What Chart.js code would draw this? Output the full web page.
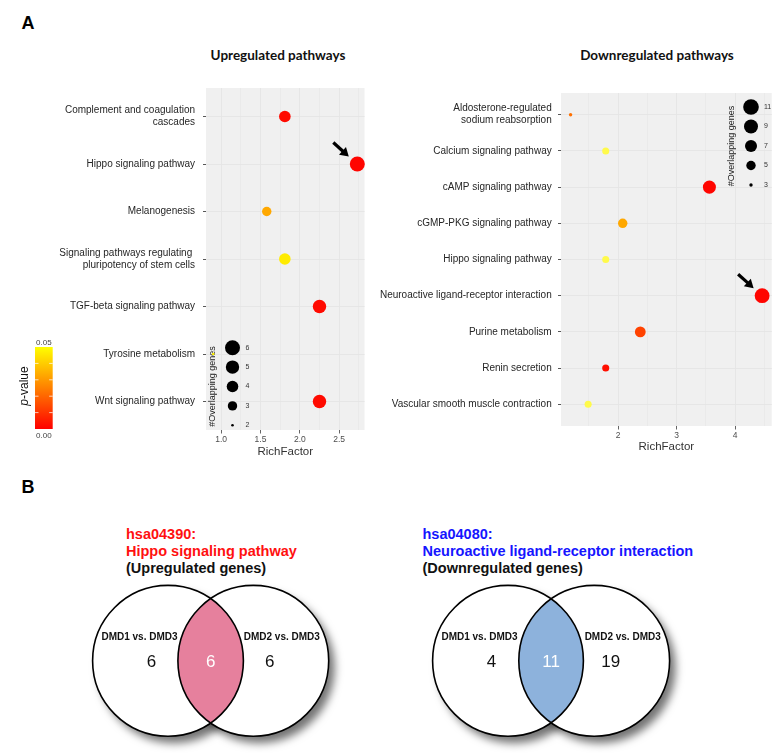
<!DOCTYPE html>
<html><head><meta charset="utf-8">
<script src="https://cdn.jsdelivr.net/npm/chart.js@4.4.1/dist/chart.umd.min.js"></script>
<style>
html,body{margin:0;padding:0;background:#fff;}
body{width:781px;height:753px;position:relative;overflow:hidden;font-family:"Liberation Sans",Arial,sans-serif;}
.t{position:absolute;white-space:nowrap;transform:translateY(-50%);}
.c{transform:translate(-50%,-50%);}
canvas{position:absolute;}
</style></head><body>
<div class="t c" style="left:28px;top:23px;font:bold 18px 'Liberation Sans',Arial;">A</div>
<div class="t c" style="left:28px;top:487px;font:bold 18px 'Liberation Sans',Arial;">B</div>
<div class="t c" style="left:278px;top:54.5px;font:bold 13.5px Lato,'Open Sans',sans-serif;color:#111;">Upregulated pathways</div>
<div class="t c" style="left:657px;top:54.5px;font:bold 13.5px Lato,'Open Sans',sans-serif;color:#111;">Downregulated pathways</div>
<div class="t" style="left:126px;top:534px;font:bold 14.5px 'Liberation Sans',Arial;color:#ff1010;">hsa04390:</div>
<div class="t" style="left:126px;top:551.3px;font:bold 14.5px 'Liberation Sans',Arial;color:#ff1010;">Hippo signaling pathway</div>
<div class="t" style="left:126px;top:568.3px;font:bold 14.5px 'Liberation Sans',Arial;color:#111;">(Upregulated genes)</div>
<div class="t" style="left:422.5px;top:534px;font:bold 14.5px 'Liberation Sans',Arial;color:#1515ff;">hsa04080:</div>
<div class="t" style="left:422.5px;top:551.3px;font:bold 14.5px 'Liberation Sans',Arial;color:#1515ff;">Neuroactive ligand-receptor interaction</div>
<div class="t" style="left:422.5px;top:568.3px;font:bold 14.5px 'Liberation Sans',Arial;color:#111;">(Downregulated genes)</div>

<canvas id="up" width="372" height="470" style="left:0;top:0;"></canvas>
<canvas id="down" width="409" height="470" style="left:372px;top:0;"></canvas>
<canvas id="venn" width="781" height="283" style="left:0;top:470px;"></canvas>

<script>
// ---------------- DATA ----------------
const upCategories = [
  ["Complement and coagulation", "cascades"],
  "Hippo signaling pathway",
  "Melanogenesis",
  ["Signaling pathways regulating ", "pluripotency of stem cells"],
  "TGF-beta signaling pathway",
  "Tyrosine metabolism",
  "Wnt signaling pathway"
];
const upRichFactor = [1.81, 2.73, 1.58, 1.81, 2.25, 0.90, 2.25];
const upGeneCount  = [4, 6, 3, 4, 5, 2, 5];
const upPValue     = [0.002, 0.001, 0.033, 0.046, 0.002, 0.047, 0.002];
const upXTicks     = [1.0, 1.5, 2.0, 2.5];
const upSizeKeys   = [6, 5, 4, 3, 2];
const upHighlight  = "Hippo signaling pathway";

const downCategories = [
  ["Aldosterone-regulated", "sodium reabsorption"],
  "Calcium signaling pathway",
  "cAMP signaling pathway",
  "cGMP-PKG signaling pathway",
  "Hippo signaling pathway",
  "Neuroactive ligand-receptor interaction",
  "Purine metabolism",
  "Renin secretion",
  "Vascular smooth muscle contraction"
];
const downRichFactor = [1.19, 1.79, 3.56, 2.08, 1.79, 4.46, 2.38, 1.79, 1.49];
const downGeneCount  = [3, 4, 8, 5, 4, 10, 6, 4, 4];
const downPValue     = [0.022, 0.068, 0.001, 0.033, 0.068, 0.001, 0.013, 0.003, 0.068];
const downXTicks     = [2, 3, 4];
const downSizeKeys   = [11, 9, 7, 5, 3];
const downHighlight  = "Neuroactive ligand-receptor interaction";

const pValueRange = [0.00, 0.05];
const pValueTickLabels = ["0.00", "0.05"];

const vennSetNames   = ["DMD1 vs. DMD3", "DMD2 vs. DMD3"];
const vennUpCounts   = [6, 6, 6];   // only set1, both, only set2
const vennDownCounts = [4, 11, 19];

// ---------------- STYLE HELPERS ----------------
const FONT = "'Liberation Sans', Arial, sans-serif";
Chart.defaults.font.family = FONT;
const upRadiusAnchors   = {2:1.3, 3:4.7, 4:5.8, 5:6.7, 6:7.5};
const downRadiusAnchors = {3:1.7, 5:4.7, 7:6.0, 9:7.0, 11:7.8};
function sizeFor(n, anchors){
  const keys = Object.keys(anchors).map(Number).sort((a,b)=>a-b);
  if (n <= keys[0]) return anchors[keys[0]];
  if (n >= keys[keys.length-1]) return anchors[keys[keys.length-1]];
  for (let i=0;i<keys.length-1;i++){
    const a=keys[i], b=keys[i+1];
    if (n>=a && n<=b){ const t=(n-a)/(b-a); const A=anchors[a]**2, B=anchors[b]**2; return Math.sqrt(A+(B-A)*t); }
  }
}
function colorFor(p){
  if (p <= 0.05){ const t=Math.max(0,p)/0.05; return `rgb(255,${Math.round(255*t)},0)`; }
  const t=Math.min(1,(p-0.05)/0.03); return `rgb(255,${Math.round(255-8*t)},${Math.round(125*t)})`;
}
function expandRange(vals){ const lo=Math.min(...vals), hi=Math.max(...vals), d=(hi-lo)*0.05; return [lo-d, hi+d]; }
function buildXTicks(majors, min, max){
  const step = majors[1]-majors[0];
  const all = majors.slice();
  for (let v = majors[0]-step/2; v <= max; v += step) if (v >= min) all.push(+v.toFixed(4));
  return all.sort((a,b)=>a-b);
}
function labelText(c){ return Array.isArray(c) ? c.join(" ") : c; }

function drawArrow(ctx, tx, ty, hx, hy){
  const dx=hx-tx, dy=hy-ty, L=Math.hypot(dx,dy), ux=dx/L, uy=dy/L;
  const hl=8.5, hw=5.2, bx=hx-ux*hl, by=hy-uy*hl;
  ctx.save(); ctx.strokeStyle='#000'; ctx.fillStyle='#000'; ctx.lineWidth=3.2;
  ctx.beginPath(); ctx.moveTo(tx,ty); ctx.lineTo(bx+ux,by+uy); ctx.stroke();
  ctx.beginPath(); ctx.moveTo(hx,hy); ctx.lineTo(bx-uy*hw,by+ux*hw); ctx.lineTo(bx+uy*hw,by-ux*hw); ctx.closePath(); ctx.fill();
  ctx.restore();
}

function panelPlugin(o){
  return {
    id: 'panel_'+o.name,
    beforeDraw(chart){
      const {ctx, chartArea:a} = chart;
      ctx.save(); ctx.fillStyle='#F0F0F0'; ctx.fillRect(a.left,a.top,a.right-a.left,a.bottom-a.top); ctx.restore();
    },
    beforeDatasetsDraw(chart){
      const {ctx, chartArea:a} = chart;
      const cx = o.legendX(a), y0 = o.legendY0(a), step = o.legendStep;
      ctx.save();
      o.sizeKeys.forEach((k,i)=>{
        const y = y0 + i*step;
        ctx.beginPath(); ctx.arc(cx, y, sizeFor(k, o.anchors), 0, Math.PI*2); ctx.fillStyle='#000'; ctx.fill();
        ctx.fillStyle='#333'; ctx.font='7px '+FONT; ctx.textAlign='left'; ctx.textBaseline='middle';
        ctx.fillText(String(k), cx+13, y);
      });
      const ty = y0 + step*(o.sizeKeys.length-1)/2;
      ctx.translate(cx-19.5, ty); ctx.rotate(-Math.PI/2);
      ctx.font='9px '+FONT; ctx.fillStyle='#222'; ctx.textAlign='center'; ctx.textBaseline='middle';
      ctx.fillText('#Overlapping genes', 0, 0);
      ctx.restore();
    },
    afterDatasetsDraw(chart){
      const idx = o.categories.findIndex(c => labelText(c) === o.highlight);
      const p = chart.getDatasetMeta(0).data[idx];
      drawArrow(chart.ctx, p.x-24, p.y-21.5, p.x-8.5, p.y-7.5);
    },
    afterDraw(chart){ if (o.extra) o.extra(chart); }
  };
}

function colorBar(chart){
  const ctx = chart.ctx;
  const x=35, w=17.7, yTop=347, yBot=429;
  ctx.save();
  const g = ctx.createLinearGradient(0, yBot, 0, yTop);
  for (let i=0;i<=10;i++){ const p = pValueRange[0] + (pValueRange[1]-pValueRange[0])*i/10; g.addColorStop(i/10, colorFor(p)); }
  ctx.fillStyle=g; ctx.fillRect(x, yTop, w, yBot-yTop);
  ctx.strokeStyle='rgba(255,255,255,0.9)'; ctx.lineWidth=0.8;
  for (let i=1;i<5;i++){ const y = yBot - (yBot-yTop)*i/5; ctx.beginPath(); ctx.moveTo(x,y); ctx.lineTo(x+3.5,y); ctx.moveTo(x+w-3.5,y); ctx.lineTo(x+w,y); ctx.stroke(); }
  ctx.fillStyle='#444'; ctx.font='8px '+FONT; ctx.textAlign='center'; ctx.textBaseline='middle';
  ctx.fillText(pValueTickLabels[1], x+w/2, yTop-4.5);
  ctx.fillText(pValueTickLabels[0], x+w/2, yBot+7);
  ctx.translate(25, 386); ctx.rotate(-Math.PI/2);
  ctx.fillStyle='#111'; ctx.textBaseline='middle'; ctx.textAlign='left';
  ctx.font='italic 12px '+FONT; const pw = ctx.measureText('p').width;
  ctx.font='12px '+FONT; const rw = ctx.measureText('-value').width;
  const sx = -(pw+rw)/2;
  ctx.font='italic 12px '+FONT; ctx.fillText('p', sx, 0);
  ctx.font='12px '+FONT; ctx.fillText('-value', sx+pw, 0);
  ctx.restore();
}

function bubbleChart(id, o){
  const [xmin, xmax] = expandRange(o.rich);
  const xt = buildXTicks(o.xTicks, xmin, xmax);
  const n = o.categories.length;
  return new Chart(document.getElementById(id), {
    type: 'bubble',
    data: { datasets: [{
      data: o.rich.map((x,i)=>({x, y:i, r:sizeFor(o.counts[i], o.anchors)})),
      backgroundColor: o.pvals.map(colorFor),
      borderWidth: 0, hoverRadius: 0, clip: false
    }]},
    options: {
      responsive:false, animation:false, devicePixelRatio:1,
      layout:{padding:o.padding},
      plugins:{legend:{display:false}, tooltip:{enabled:false}},
      events: [],
      scales:{
        x:{ type:'linear', min:xmin, max:xmax,
          afterBuildTicks: s => { s.ticks = xt.map(v=>({value:v})); },
          ticks:{ autoSkip:false, maxRotation:0, padding:1.5, color:'#4d4d4d', font:{size:8.5},
            callback: v => o.xTicks.includes(v) ? o.xFmt(v) : '' },
          grid:{ color: c => '#e4e4e4', lineWidth: c => o.xTicks.includes(c.tick.value) ? 0.9 : 0.5,
            tickLength:3.5, tickColor: c => o.xTicks.includes(c.tick.value) ? '#555' : 'rgba(0,0,0,0)' },
          border:{display:false},
          title:{display:true, text:'RichFactor', color:'#333', font:{size:11.5}, padding:0},
          afterFit: s => { s.height = o.xAxisH; }
        },
        y:{ type:'linear', min:-0.6, max:n-1+0.6, reverse:true,
          afterBuildTicks: s => { s.ticks = o.categories.map((c,i)=>({value:i})); },
          ticks:{ autoSkip:false, padding:o.yPad, color:'#262626', font:{size:10, lineHeight:1.2},
            callback: v => o.categories[v] },
          grid:{ color:'#e4e4e4', lineWidth:0.9, tickLength:3, tickColor:'#444' },
          border:{display:false},
          afterFit: s => { s.width = o.yAxisW; }
        }
      }
    },
    plugins:[panelPlugin(o)]
  });
}

bubbleChart('up', {
  name:'up', categories:upCategories, rich:upRichFactor, counts:upGeneCount, pvals:upPValue,
  anchors:upRadiusAnchors, sizeKeys:upSizeKeys, xTicks:upXTicks, xFmt: v => v.toFixed(1),
  highlight: upHighlight,
  padding:{top:88, right:2, bottom:11, left:0}, xAxisH:29, yAxisW:206, yPad:8,
  legendX: a => a.left+26.5, legendY0: a => a.bottom-82.3, legendStep:19.4,
  extra: colorBar
});
bubbleChart('down', {
  name:'down', categories:downCategories, rich:downRichFactor, counts:downGeneCount, pvals:downPValue,
  anchors:downRadiusAnchors, sizeKeys:downSizeKeys, xTicks:downXTicks, xFmt: v => String(v),
  highlight: downHighlight,
  padding:{top:93, right:9.3, bottom:16, left:0}, xAxisH:28, yAxisW:189, yPad:6.3,
  legendX: a => a.right-20.7, legendY0: a => a.top+14, legendStep:19.5
});

// ---------------- VENN ----------------
const vennLayout = [
  {c1:168, c2:253.3, cy:660.8, r:75.4, fill:'#E6809D', counts:vennUpCounts},
  {c1:508, c2:594.2, cy:660.8, r:75.4, fill:'#8DB2DC', counts:vennDownCounts}
];
const vennPlugin = {
  id:'venn',
  afterDraw(chart){
    const ctx = chart.ctx, xs = chart.scales.x, ys = chart.scales.y;
    vennLayout.forEach(v => {
      const x1 = xs.getPixelForValue(v.c1), x2 = xs.getPixelForValue(v.c2), y = ys.getPixelForValue(v.cy), r = v.r;
      const circ = x => { ctx.beginPath(); ctx.arc(x, y, r, 0, Math.PI*2); };
      ctx.save();
      ctx.shadowColor='rgba(0,0,0,0.55)'; ctx.shadowBlur=9; ctx.shadowOffsetX=6; ctx.shadowOffsetY=7;
      ctx.fillStyle='#fff'; circ(x1); ctx.fill(); circ(x2); ctx.fill();
      ctx.restore();
      ctx.save(); ctx.fillStyle='#fff'; circ(x1); ctx.fill(); circ(x2); ctx.fill();
      circ(x1); ctx.clip(); ctx.fillStyle=v.fill; circ(x2); ctx.fill(); ctx.restore();
      ctx.save(); ctx.strokeStyle='#000'; ctx.lineWidth=1.6; circ(x1); ctx.stroke(); circ(x2); ctx.stroke();
      ctx.textAlign='center'; ctx.textBaseline='middle';
      ctx.font='bold 10px '+FONT; ctx.fillStyle='#111';
      ctx.fillText(vennSetNames[0], x1-28.5, y-23.5);
      ctx.fillText(vennSetNames[1], x2+28.5, y-23.5);
      ctx.font='17px '+FONT;
      ctx.fillStyle='#111'; ctx.fillText(String(v.counts[0]), x1-16.5, y+2);
      ctx.fillStyle='#fff'; ctx.fillText(String(v.counts[1]), (x1+x2)/2, y+2);
      ctx.fillStyle='#111'; ctx.fillText(String(v.counts[2]), x2+16.5, y+2);
      ctx.restore();
    });
  }
};
new Chart(document.getElementById('venn'), {
  type:'scatter', data:{datasets:[]},
  options:{ responsive:false, animation:false, devicePixelRatio:1, events:[],
    layout:{padding:0}, plugins:{legend:{display:false}, tooltip:{enabled:false}},
    scales:{ x:{display:false, min:0, max:781}, y:{display:false, min:470, max:753, reverse:true} } },
  plugins:[vennPlugin]
});
</script>
</body></html>
